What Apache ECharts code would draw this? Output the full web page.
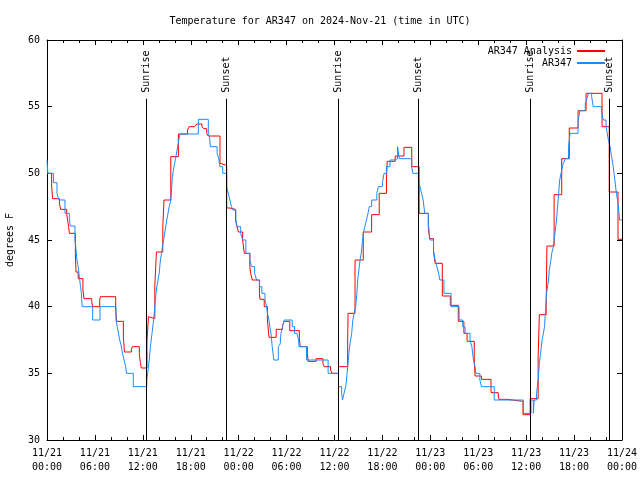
<!DOCTYPE html>
<html><head><meta charset="utf-8">
<script src="https://cdn.jsdelivr.net/npm/echarts@6/dist/echarts.min.js"></script>
<style>html,body{margin:0;padding:0;background:#fff}#c{width:640px;height:480px}</style>
</head><body><div id="c"></div>
<script>
// hours since 2024-11-21 00:00 UTC; each value holds until the next time (step plot)
const redHours = [0,0.58,0.7,1.55,1.7,2.46,2.7,2.8,3.55,3.63,3.9,4.5,4.63,5.6,5.7,6.6,6.68,8.6,8.72,9.56,9.7,10.56,10.7,11.56,11.7,11.8,12.52,12.7,12.77,13.5,13.7,14.5,14.65,15.5,16.45,17.6,17.8,18.5,18.75,19.4,19.6,20.0,20.2,21.66,21.8,22.5,22.9,23.6,23.8,23.96,24.5,24.7,25.4,25.5,25.7,26.6,26.67,27.2,27.6,27.8,28.7,29.5,29.7,30.4,31.6,31.7,32.6,32.7,33.7,34.55,34.7,35.5,35.7,36.5,37.65,37.7,38.57,39.6,40.65,41.6,42.5,42.6,43.6,44.7,45.67,46.6,47.75,47.9,48.4,48.6,49.5,50.5,51.5,52.2,52.6,53.5,53.6,54.4,55.6,56.5,56.6,57.6,59.6,60.5,61.5,61.65,62.5,62.6,63.5,64.45,65.4,66.5,67.5,69.5,70.4,71.5,72];
const redTemps = [50.0,49.05,48.1,47.75,47.3,47.0,46.0,45.5,44.0,42.6,42.1,41.25,40.6,40.4,40.0,40.5,40.75,39.7,38.9,37.75,36.6,36.8,37.0,36.4,35.8,35.4,37.4,39.25,39.1,41.6,44.1,46.0,48.0,51.25,52.95,53.25,53.5,53.6,53.7,53.5,53.35,53.0,52.8,50.75,50.6,47.4,47.3,46.5,46.0,45.6,45.0,44.0,43.0,42.5,42.0,41.0,40.55,40.0,39.0,37.7,38.3,38.6,38.9,38.2,37.6,37.0,36.5,35.9,36.1,35.75,35.5,35.25,35.0,35.5,37.5,39.5,43.5,45.6,46.9,48.5,49.5,50.9,51.3,51.95,50.5,47.0,46.0,45.1,44.1,43.25,40.8,40.1,38.9,38.0,37.4,36.0,34.8,34.55,33.55,33.3,33.05,32.9,31.9,33.1,36.25,39.4,40.0,44.55,48.4,51.1,53.4,54.7,56.0,53.5,48.6,45.05,45.05];

const blueHours = [0,0.1,0.8,1.25,1.5,2.25,2.8,2.9,3.5,3.6,3.75,3.9,4.0,4.1,4.2,4.3,4.4,5.72,6.64,8.64,8.8,8.95,9.1,9.3,9.45,9.65,9.85,9.95,10.8,12.5,12.6,12.8,12.95,13.15,13.35,13.5,13.65,13.8,13.9,14.05,14.2,14.35,14.45,14.6,14.8,15.0,15.15,15.3,15.5,15.7,15.9,16.1,16.25,16.5,16.65,18.95,20.2,20.35,20.45,21.3,21.5,21.65,22.0,22.5,22.7,22.9,23.1,23.3,23.65,23.8,24.25,24.5,24.9,25.4,25.6,26.0,26.25,26.6,26.9,27.3,27.5,27.6,27.8,27.9,28.05,28.2,28.4,28.97,29.2,29.3,29.5,29.7,30.7,31.0,31.3,31.5,31.55,32.5,35.2,36.5,36.9,37.0,37.2,37.4,37.5,37.65,37.8,37.95,38.15,38.3,38.45,38.65,38.8,38.9,39.1,39.2,39.35,39.6,39.8,40.0,40.2,40.35,40.65,41.3,41.5,42.0,42.2,42.5,42.95,43.6,43.9,44.1,45.67,45.8,46.5,46.7,46.9,47.1,47.3,47.75,47.95,48.4,48.6,48.8,49.0,49.2,49.7,50.6,51.6,52.05,52.35,52.97,53.2,53.4,53.6,53.7,54.2,54.4,56.0,59.65,60.6,60.9,61.0,61.3,61.5,61.65,61.8,62.0,62.15,62.3,62.45,62.55,62.8,62.9,63.1,63.2,63.4,63.6,63.7,63.8,63.9,64.0,64.2,64.45,64.65,64.9,65.3,65.5,66.5,66.75,67.4,67.6,67.8,68.2,68.4,69.45,69.65,70.0,70.15,70.3,70.5,70.7,70.9,71.1,71.3,71.5,71.7,72];
const blueTemps = [51.0,50.0,49.3,48.5,48.0,47.0,46.6,46.05,45.0,44.5,43.5,43.0,42.5,42.0,41.5,41.05,40.0,39.0,40.0,39.0,38.5,38.0,37.5,37.05,36.5,36.0,35.5,35.0,34.0,34.5,35.0,36.0,37.0,38.0,39.0,40.0,41.0,41.7,42.0,42.5,43.5,44.0,44.5,45.0,45.75,46.5,47.0,47.5,48.0,49.75,50.5,51.1,51.6,52.5,52.95,54.05,53.0,52.75,52.0,51.5,51.1,50.5,50.0,49.0,48.5,48.0,47.5,47.25,46.5,46.0,45.5,45.0,44.0,43.5,43.0,42.5,42.0,41.5,41.0,40.5,40.0,39.5,39.0,38.5,38.0,37.0,36.0,37.0,37.2,38.0,38.5,39.0,38.5,38.0,37.9,37.5,37.0,36.0,35.0,34.0,33.5,33.0,33.5,34.0,34.5,35.5,36.5,37.25,38.0,39.0,39.5,40.0,41.0,42.0,43.0,43.5,44.0,45.5,46.0,46.5,47.0,47.5,48.0,48.5,49.0,49.3,50.0,50.5,51.0,51.1,52.0,51.1,50.5,50.0,49.5,49.0,48.5,48.0,47.0,46.25,45.0,44.2,43.5,43.05,42.6,42.0,41.0,40.0,39.0,38.5,38.0,37.5,37.0,36.0,35.5,35.0,34.5,34.0,33.0,32.0,33.0,32.0,33.0,33.5,34.5,35.75,36.5,37.5,38.0,38.5,40.0,41.0,42.0,42.75,43.5,44.0,44.5,45.5,46.0,46.5,47.25,48.0,49.5,50.25,50.75,51.1,52.0,53.0,54.0,54.7,55.25,55.6,56.0,55.75,55.0,54.6,54.0,53.5,53.0,52.5,52.0,51.25,50.5,49.5,48.5,47.75,46.5,46.5];

const sunHours = [12.43, 22.45, 36.44, 46.48, 60.52, 70.41];
const sunNames = ['Sunrise','Sunset','Sunrise','Sunset','Sunrise','Sunset'];

const xTickLabels = ['11/21\n00:00','11/21\n06:00','11/21\n12:00','11/21\n18:00','11/22\n00:00','11/22\n06:00','11/22\n12:00','11/22\n18:00','11/23\n00:00','11/23\n06:00','11/23\n12:00','11/23\n18:00','11/24\n00:00'];
const yTicks = [30,35,40,45,50,55,60];

const FONT = 'DejaVu Sans Mono';
const SUN_LINE_TOP = 55.6, SUN_LABEL_Y = 56.05;

const chart = echarts.init(document.getElementById('c'), null, {renderer:'canvas'});
const zip = (a,b) => a.map((v,i)=>[v,b[i]]);

const axisCommon = {
  axisLine:{show:true, onZero:false, lineStyle:{color:'#000', width:1}},
  axisTick:{show:true, inside:true, length:5, lineStyle:{color:'#000'}},
  splitLine:{show:false}
};

chart.setOption({
  animation:false,
  backgroundColor:'#fff',
  textStyle:{fontFamily:FONT},
  title:{text:'Temperature for AR347 on 2024-Nov-21 (time in UTC)', left:'center', top:11,
    textStyle:{fontFamily:FONT, fontSize:10, fontWeight:'normal', color:'#000'}},
  legend:{orient:'vertical', right:30, top:41, align:'right', itemWidth:28, itemHeight:2, itemGap:2,
    icon:'rect',
    textStyle:{fontFamily:FONT, fontSize:10, color:'#000', padding:[0,0,0,0]},
    data:['AR347 Analysis','AR347']},
  grid:{left:47, right:18, top:40, bottom:40, outerBoundsMode:'none', containLabel:false},
  xAxis:[
    Object.assign({type:'value', min:0, max:72, interval:6,
      minorTick:{show:true, splitNumber:3, length:3, lineStyle:{color:'#000'}},
      axisLabel:{show:true, margin:6, fontFamily:FONT, fontSize:10, color:'#000', lineHeight:14,
        showMinLabel:true, showMaxLabel:true, hideOverlap:false,
        formatter:v=>xTickLabels[Math.round(v/6)]}}, axisCommon),
    Object.assign({type:'value', min:0, max:72, interval:6, position:'top',
      minorTick:{show:true, splitNumber:3, length:3, lineStyle:{color:'#000'}},
      axisLabel:{show:false}}, axisCommon)
  ],
  yAxis:[
    Object.assign({type:'value', min:30, max:60, interval:5,
      name:'degrees F', nameLocation:'middle', nameGap:32, nameRotate:90,
      nameTextStyle:{fontFamily:FONT, fontSize:10, color:'#000'},
      axisLabel:{margin:7, fontFamily:FONT, fontSize:10, color:'#000', formatter:v=>yTicks.includes(v)?String(v):''}}, axisCommon),
    Object.assign({type:'value', min:30, max:60, interval:5, position:'right', axisLabel:{show:false}}, axisCommon)
  ],
  series:[
    {name:'sun', type:'scatter', xAxisIndex:0, yAxisIndex:0, symbolSize:0, silent:true,
      data:sunHours.map((h,i)=>({value:[h, SUN_LABEL_Y], name:sunNames[i]})),
      label:{show:true, position:'inside', rotate:90, align:'left', verticalAlign:'middle',
        fontFamily:FONT, fontSize:10, color:'#000', textBorderWidth:0, opacity:1, formatter:p=>p.name},
      markLine:{silent:true, symbol:'none', animation:false,
        lineStyle:{color:'#000', width:1, type:'solid'}, label:{show:false},
        data:sunHours.map(h=>[{coord:[h,30]},{coord:[h,SUN_LINE_TOP]}])}},
    {name:'AR347 Analysis', type:'line', step:'end', showSymbol:false, symbol:'none',
      xAxisIndex:0, yAxisIndex:0, color:'#ff0000',
      lineStyle:{color:'#ff0000', width:1}, data:zip(redHours, redTemps)},
    {name:'AR347', type:'line', step:'end', showSymbol:false, symbol:'none',
      xAxisIndex:0, yAxisIndex:0, color:'#1a8cff',
      lineStyle:{color:'#1a8cff', width:1}, data:zip(blueHours, blueTemps)}
  ]
});
</script></body></html>
